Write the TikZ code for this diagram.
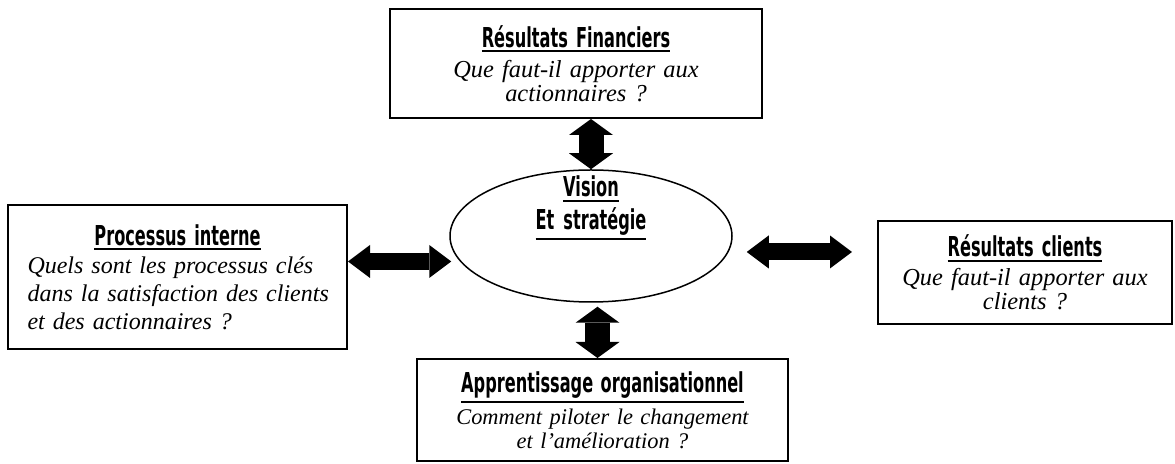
\documentclass[tikz,border=0pt]{standalone}
\usepackage{fontspec}
\setmainfont{Liberation Serif}
\newfontfamily\titrefont{DejaVu Sans}[FakeStretch=0.59]
\usetikzlibrary{calc}
\usetikzlibrary{shapes.geometric}
\usetikzlibrary{arrows.meta}
\newsavebox{\titrebox}
\newcommand{\titre}[1]{%
  \sbox{\titrebox}{\titrefont\upshape\bfseries\fontsize{13.7}{16}\selectfont #1}%
  \leavevmode\rlap{\rule[-\dimexpr\dp\titrebox+2.2pt\relax]{\wd\titrebox}{1pt}}%
  \usebox{\titrebox}}
\tikzset{
  boite/.style={draw, line width=1pt, inner sep=0pt, align=center,
    font={\fontsize{12.2}{12}\selectfont\itshape\lineskiplimit=-20pt}},
  centre/.style={draw, ellipse, line width=0.75pt, inner sep=0pt,
    minimum width=141pt, minimum height=66pt},
  fleche h/.style={line width=8.5pt, <->,
    >={Triangle[length=11pt, width=16.5pt, line width=0pt]}},
  fleche v/.style={line width=12.5pt, <->,
    >={Triangle[length=8pt, width=22pt, line width=0pt]}}
}

\begin{document}
\begin{tikzpicture}[x=0.5pt,y=-0.5pt]
  \useasboundingbox (0,0) rectangle (1175,464);
  % Centre
  \node[centre] (vision) at (591,236) {};
  \node[text width=120pt, align=center,
    font={\fontsize{13.7}{16.5}\selectfont\lineskiplimit=-20pt}]
    (vtexte) at (591,208) {\titre{Vision}\\ \titre{Et stratégie}};
  % Boxes
  \node[boite, text width=170pt, minimum width=186pt, minimum height=54.5pt]
    (fin) at (576,63.5)
    {\titre{Résultats Financiers}\\[3pt] Que faut-il apporter aux\\ actionnaires ?};
  \node[boite, text width=150pt, minimum width=169.5pt, minimum height=72pt,
    align=left, font={\fontsize{12}{14}\selectfont\itshape\lineskiplimit=-20pt}]
    (proc) at (177.5,277)
    {{\centering\titre{Processus interne}\par}\noindent
     Quels sont les processus clés\\ \mbox{dans la satisfaction des clients}\\
     et des actionnaires ?};
  \node[boite, text width=140pt, minimum width=147pt, minimum height=51.5pt]
    (cli) at (1025,272.5)
    {\titre{Résultats clients}\\[2.5pt] Que faut-il apporter aux\\ clients ?};
  \node[boite, text width=175pt, minimum width=185.5pt, minimum height=51pt,
    font={\fontsize{11.2}{12}\selectfont\itshape\lineskiplimit=-20pt}]
    (app) at (602.5,410)
    {\titre{Apprentissage organisationnel}\\[4pt] Comment piloter le changement\\
     et l’amélioration ?};
  % Arrows
  \draw[fleche v] (fin.south -| vision.north) -- (vision.north);
  \draw[fleche v] ($(vision.south)+(6.5,4)$) -- ($(vision.south |- app.north)+(6.5,0)$);
  \draw[fleche h] ($(proc.east)+(0,-15.5)$) -- ($(proc.east -| vision.west)+(2,-15.5)$);
  \draw[fleche h] ($(vision.east)+(14,16)$) -- ($(cli.west)+(-25,-20.5)$);
\end{tikzpicture}
\end{document}
